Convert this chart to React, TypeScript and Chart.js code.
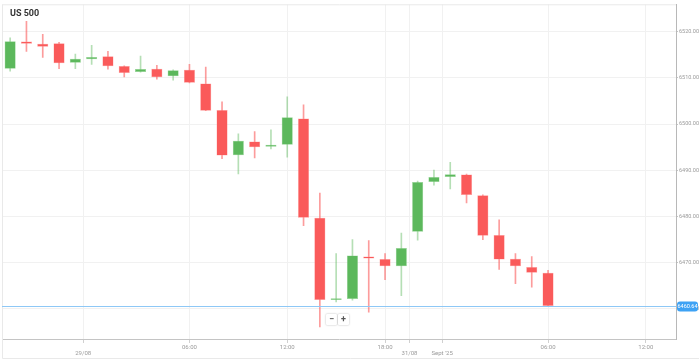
import React, { useEffect, useRef } from 'react';
import { Chart, registerables } from 'chart.js';

Chart.register(...registerables);

const title = 'US 500';

const opens = [
  6511.97, 6517.85, 6517.34, 6517.49, 6513.26, 6513.99, 6514.64, 6512.55, 6511.27, 6511.97,
  6510.34, 6511.76, 6508.76, 6503.05, 6493.24, 6496.24, 6495.11, 6495.54, 6501.18, 6479.72,
  6461.91, 6462.13, 6471.35, 6470.82, 6469.21, 6476.72, 6487.45, 6488.52, 6489.1, 6484.59,
  6476.01, 6470.86, 6469.06, 6467.85,
];
const highs = [
  6518.63, 6522.2, 6519.42, 6517.7, 6515.13, 6517.0, 6515.71, 6512.6, 6514.7, 6512.7,
  6511.7, 6512.92, 6512.34, 6504.83, 6497.9, 6498.39, 6498.76, 6505.9, 6504.18, 6485.09,
  6472.0, 6475.0, 6474.78, 6472.0, 6476.39, 6487.66, 6490.02, 6491.74, 6489.16, 6484.66,
  6479.29, 6472.0, 6471.35, 6468.35,
];
const lows = [
  6511.42, 6515.71, 6514.42, 6511.97, 6511.97, 6512.92, 6511.85, 6510.19, 6511.2, 6509.7,
  6509.49, 6508.9, 6502.9, 6492.53, 6489.23, 6492.66, 6494.59, 6492.81, 6478.0, 6456.12,
  6461.5, 6461.9, 6459.33, 6466.31, 6462.88, 6474.89, 6486.8, 6485.94, 6482.94, 6475.0,
  6468.56, 6465.49, 6464.7, 6460.64,
];
const closes = [
  6517.92, 6517.34, 6516.7, 6513.13, 6514.12, 6514.48, 6512.49, 6511.05, 6511.91, 6510.13,
  6511.63, 6508.91, 6502.9, 6493.18, 6496.39, 6494.96, 6495.54, 6501.46, 6479.72, 6461.91,
  6462.34, 6471.57, 6470.92, 6469.21, 6473.18, 6487.45, 6488.52, 6489.16, 6484.66, 6475.86,
  6470.71, 6469.21, 6467.85, 6460.64,
];

const xTickValues = [4.48, 11, 17, 23, 24.5, 26.5, 33, 39];
const xTickLabels: (string | string[])[] = [
  ['', '29/08'], '06:00', '12:00', '18:00', ['', '31/08'], ['', "Sept '25"], '06:00', '12:00',
];
const yTickValues = [6460, 6470, 6480, 6490, 6500, 6510, 6520];
const currentPrice = 6460.64;

const GREEN = '#5cb85c';
const RED = '#fa5a5a';
const GREEN_WICK = 'rgba(92,184,92,0.45)';
const RED_WICK = 'rgba(250,90,90,0.6)';

const isUp = (i: number) => closes[i] >= opens[i];

const overlayPlugin = {
  id: 'overlay',
  beforeDatasetsDraw(chart: any) {
    const { ctx, chartArea } = chart;
    ctx.save();
    ctx.strokeStyle = '#e9e9e9';
    ctx.lineWidth = 1;
    ctx.beginPath();
    ctx.moveTo(chartArea.left + 0.5, chartArea.top + 0.5);
    ctx.lineTo(chartArea.right, chartArea.top + 0.5);
    ctx.moveTo(chartArea.left + 0.5, chartArea.top);
    ctx.lineTo(chartArea.left + 0.5, 358.5);
    ctx.lineTo(chart.width, 358.5);
    ctx.stroke();
    ctx.restore();
  },
  afterDatasetsDraw(chart: any) {
    const { ctx, chartArea, scales } = chart;
    const y = Math.round(scales.y.getPixelForValue(currentPrice)) + 0.5;
    ctx.save();
    ctx.strokeStyle = '#8ec8f6';
    ctx.lineWidth = 1;
    ctx.beginPath();
    ctx.moveTo(chartArea.left, y);
    ctx.lineTo(chartArea.right, y);
    ctx.stroke();
    ctx.restore();
  },
  afterDraw(chart: any) {
    const { ctx, chartArea, scales } = chart;
    const y = Math.round(scales.y.getPixelForValue(currentPrice)) + 0.5;
    ctx.save();
    const x0 = chartArea.right + 1;
    const w = 21;
    const h = 10;
    ctx.fillStyle = '#3ea2f4';
    ctx.beginPath();
    (ctx as any).roundRect(x0, y - h / 2, w, h, 3);
    ctx.fill();
    ctx.fillStyle = '#ffffff';
    ctx.font = '5.5px Roboto, Arial, sans-serif';
    ctx.textAlign = 'center';
    ctx.textBaseline = 'middle';
    ctx.fillText(currentPrice.toFixed(2), x0 + w / 2, y);
    ctx.fillStyle = '#333333';
    ctx.font = 'bold 9px Roboto, Arial, sans-serif';
    ctx.textAlign = 'left';
    ctx.textBaseline = 'alphabetic';
    ctx.fillText(title, 10, 15.5);
    ctx.restore();
  },
};

export default function App() {
  const canvasRef = useRef<HTMLCanvasElement | null>(null);

  useEffect(() => {
    document.body.style.margin = '0';
    const canvas = canvasRef.current;
    if (!canvas) return;
    const idx = opens.map((_, i) => i);
    const chart = new Chart(canvas, {
      type: 'bar',
      data: {
        datasets: [
          {
            label: 'body',
            data: idx.map((i) => ({ x: i, y: [opens[i], closes[i]] })) as any,
            backgroundColor: (c: any) => (isUp(c.dataIndex) ? GREEN : RED),
            borderColor: (c: any) => (isUp(c.dataIndex) ? 'rgba(140,210,140,0.9)' : 'rgba(255,150,150,0.9)'),
            borderWidth: 0.5,
            borderSkipped: false,
            grouped: false,
            categoryPercentage: 0.8,
            barPercentage: 0.85,
          } as any,
          {
            label: 'wick',
            data: idx.map((i) => ({ x: i, y: [lows[i], highs[i]] })) as any,
            backgroundColor: (c: any) => (isUp(c.dataIndex) ? GREEN_WICK : RED_WICK),
            borderWidth: 0,
            grouped: false,
            barThickness: 1,
          } as any,
        ],
      },
      options: {
        animation: false,
        responsive: false,
        maintainAspectRatio: false,
        layout: { padding: { left: 2, top: 2, right: 0, bottom: 0 } },
        plugins: { legend: { display: false }, tooltip: { enabled: false } },
        scales: {
          x: {
            type: 'linear',
            offset: false,
            min: -0.5,
            max: 40.85,
            afterBuildTicks: (s: any) => {
              s.ticks = xTickValues.map((v) => ({ value: v }));
            },
            afterFit: (s: any) => {
              s.height = 21;
            },
            ticks: {
              autoSkip: false,
              maxRotation: 0,
              padding: 1,
              color: '#9a9a9a',
              font: { size: 6, family: 'Roboto, Arial, sans-serif', lineHeight: 1.1 },
              callback: (_v: any, i: number) => xTickLabels[i],
            },
            grid: { offset: false, color: '#f1f1f1', tickLength: 4, tickColor: '#d0d0d0' },
            border: { color: '#c4c4c4' },
          },
          y: {
            type: 'linear',
            position: 'right',
            min: 6453.5,
            max: 6525.9,
            afterBuildTicks: (s: any) => {
              s.ticks = yTickValues.map((v) => ({ value: v }));
            },
            afterFit: (s: any) => {
              s.width = 23;
            },
            ticks: {
              padding: 1,
              color: '#9a9a9a',
              font: { size: 5.5, family: 'Roboto, Arial, sans-serif' },
              callback: (v: any) => Number(v).toFixed(2),
            },
            grid: { color: '#f1f1f1', tickLength: 2, tickColor: '#c4c4c4' },
            border: { color: '#b8b8b8' },
          },
        },
      } as any,
      plugins: [overlayPlugin],
    });
    return () => chart.destroy();
  }, []);

  const btn: React.CSSProperties = {
    position: 'absolute',
    top: 314,
    width: 11,
    height: 11,
    background: '#fff',
    boxShadow: '0 0 2px rgba(0,0,0,0.3)',
    borderRadius: 1,
    font: 'bold 9px Roboto, Arial, sans-serif',
    color: '#555',
    textAlign: 'center',
    lineHeight: '11px',
  };

  return (
    <div style={{ position: 'relative', width: 699, height: 360 }}>
      <canvas ref={canvasRef} width={699} height={360} style={{ display: 'block' }} />
      <div style={{ ...btn, left: 326 }}>−</div>
      <div style={{ ...btn, left: 338 }}>+</div>
    </div>
  );
}
